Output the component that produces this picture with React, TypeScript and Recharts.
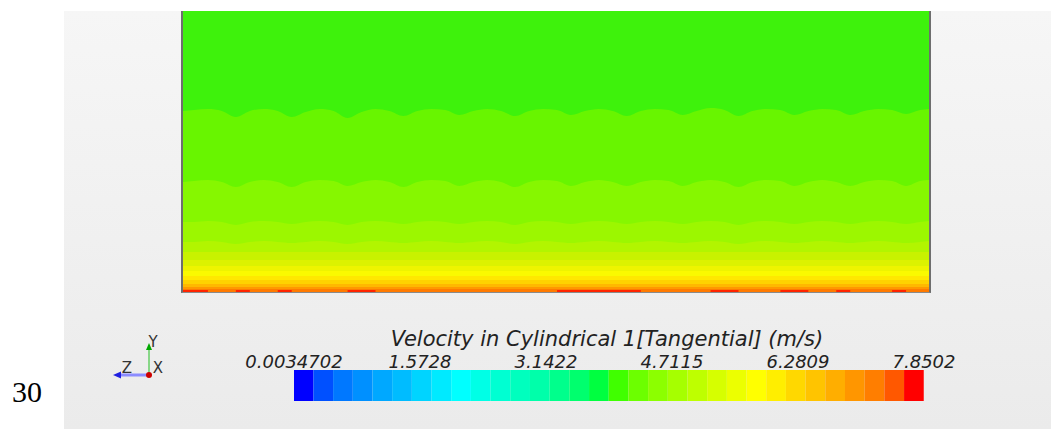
import { ComposedChart, Area, XAxis, YAxis, BarChart, Bar } from 'recharts'

// sample positions across the wall (px along the section)
const xPos = [
  0, 11, 25, 39, 53, 67, 81, 95, 109, 123, 137, 151, 165, 179, 193, 207, 221, 235, 249, 263,
  277, 291, 305, 319, 333, 347, 361, 375, 389, 403, 417, 431, 445, 459, 473, 487, 501, 515, 529,
  543, 557, 571, 585, 599, 613, 627, 641, 655, 669, 683, 697, 711, 725, 739, 748,
]

const fieldHeight = 281

// wavy contour boundaries (height above the wall)
const edge1 = [
  181, 182, 183, 181, 175, 181, 183, 181, 175, 180, 183, 181, 174, 180, 183, 181, 176, 181, 183,
  182, 177, 181, 183, 181, 176, 181, 183, 182, 177, 181, 183, 181, 176, 181, 183, 182, 177, 181,
  184, 182, 176, 181, 183, 182, 177, 181, 183, 182, 177, 181, 183, 182, 178, 182, 183,
]
const edge2 = [
  110, 111, 112, 110, 105, 110, 112, 110, 105, 110, 112, 111, 106, 110, 112, 110, 105, 110, 112,
  111, 106, 110, 112, 110, 105, 110, 112, 111, 106, 110, 112, 110, 106, 110, 112, 111, 106, 110,
  112, 110, 105, 110, 112, 111, 106, 110, 112, 110, 106, 110, 112, 111, 106, 111, 112,
]
const edge3 = [
  70, 70, 71, 70, 67, 70, 71, 70, 68, 70, 71, 70, 67, 70, 71, 70, 68, 70, 71, 70, 68, 70, 71, 70,
  67, 70, 71, 70, 68, 70, 71, 70, 68, 70, 71, 70, 68, 70, 71, 70, 67, 70, 71, 70, 68, 70, 71, 70,
  68, 70, 71, 70, 68, 70, 71,
]
const edge4 = [
  50, 50, 51, 50, 48, 50, 51, 50, 49, 50, 51, 50, 48, 50, 51, 50, 49, 50, 51, 50, 49, 50, 51, 50,
  48, 50, 51, 50, 49, 50, 51, 50, 49, 50, 51, 50, 49, 50, 51, 50, 48, 50, 51, 50, 49, 50, 51, 50,
  49, 50, 51, 50, 49, 50, 51,
]
// near-wall layers are flat
const flatLevels = [40, 32, 26, 21, 16, 12, 8, 5, 3]
const redStrip = [
  2, 2, 0, 0, 2, 0, 0, 2, 0, 0, 0, 0, 2, 2,
  0, 0, 0, 0, 0, 0, 0, 0, 0, 0, 0, 0, 0,
  2, 2, 2, 2, 2, 2,
  0, 0, 0, 0, 0,
  2, 2,
  0, 0, 0,
  2, 2,
  0, 0,
  2,
  0, 0, 0,
  2,
  0, 0, 0,
]

const bandColors = [
  '#3ef20c', '#68f500', '#86f700', '#9cf700', '#b2f500', '#c8f200', '#dcf200',
  '#eef400', '#fafa00', '#ffe800', '#ffd200', '#ffb800', '#ff9800', '#ff7a00',
]
const redColor = '#ff2400'

// legend scale (m/s)
const scaleMin = 0.0034702
const scaleMax = 7.8502
const levelStep = 0.24522
const scaleTicks = [0.0034702, 1.5728, 3.1422, 4.7115, 6.2809, 7.8502]
const scaleLabels = ['0.0034702', '1.5728', '3.1422', '4.7115', '6.2809', '7.8502']
const scaleColors = [
  '#0000ff', '#0050ff', '#0078ff', '#0090ff', '#00a8ff', '#00bcff', '#00d4ff', '#00eaff',
  '#00ffff', '#00ffe6', '#00ffd2', '#00ffbe', '#00ffaa', '#00ff8c', '#00ff6e', '#00ff40',
  '#40ff00', '#6cff00', '#8cff00', '#a6ff00', '#beff00', '#d6ff00', '#ecff00', '#ffff00',
  '#ffee00', '#ffd800', '#ffc400', '#ffae00', '#ff9600', '#ff7e00', '#ff5800', '#ff0000',
]
const scaleTitle = 'Velocity in Cylindrical 1[Tangential] (m/s)'

const font = '"DejaVu Sans", Verdana, sans-serif'

const bandKeys = ['field', 'e1', 'e2', 'e3', 'e4', 'f0', 'f1', 'f2', 'f3', 'f4', 'f5', 'f6', 'f7', 'f8']

const contourData = xPos.map((x, i) => {
  const row: Record<string, number> = {
    x,
    field: fieldHeight,
    e1: edge1[i],
    e2: edge2[i],
    e3: edge3[i],
    e4: edge4[i],
    red: redStrip[i],
  }
  flatLevels.forEach((v, j) => (row[`f${j}`] = v))
  return row
})

// one row, one stacked segment per colour level
const scaleRow: Record<string, string | number> = { name: 'levels' }
scaleColors.forEach((_, i) => (scaleRow[`c${i}`] = levelStep))
const scaleData = [scaleRow]

function Triad() {
  return (
    <svg width={80} height={60} style={{ position: 'absolute', left: 100, top: 330 }}>
      <line x1={49} y1={45} x2={49} y2={17} stroke="#22c022" strokeWidth={1} />
      <polygon points="46,20 52,20 49,13" fill="#00a800" />
      <line x1={49} y1={45} x2={20} y2={45} stroke="#8c8cff" strokeWidth={3} />
      <polygon points="13,45 21,41.5 21,48.5" fill="#2020e0" />
      <circle cx={49} cy={45} r={3} fill="#cc0000" />
      <g fontFamily={font} fontSize={15} fill="#333">
        <text x={53} y={17} textAnchor="middle">Y</text>
        <text x={27} y={43} textAnchor="middle">Z</text>
        <text x={58} y={43} textAnchor="middle">X</text>
      </g>
    </svg>
  )
}

export default function App() {
  return (
    <div style={{ position: 'absolute', left: 0, top: 0, width: 1051, height: 429, background: '#fff', overflow: 'hidden' }}>
      <div
        style={{
          position: 'absolute',
          left: 64,
          top: 11,
          width: 987,
          height: 418,
          background: 'linear-gradient(#f6f6f6, #ebebeb)',
        }}
      />

      {/* contour field */}
      <div
        style={{
          position: 'absolute',
          left: 181,
          top: 11,
          borderLeft: '2px solid #6e6e6e',
          borderRight: '2px solid #6e6e6e',
          borderBottom: '1px solid #8a8a8a',
        }}
      >
        <ComposedChart width={746} height={281} data={contourData} margin={{ top: 0, right: 0, bottom: 0, left: 0 }}>
          <XAxis dataKey="x" type="number" domain={[0, 748]} hide />
          <YAxis type="number" domain={[0, fieldHeight]} hide allowDataOverflow />
          {bandKeys.map((k, i) => (
            <Area
              key={k}
              dataKey={k}
              type="monotone"
              fill={bandColors[i]}
              fillOpacity={1}
              stroke="none"
              dot={false}
              activeDot={false}
              isAnimationActive={false}
            />
          ))}
          <Area
            dataKey="red"
            type="stepAfter"
            fill={redColor}
            fillOpacity={1}
            stroke="none"
            dot={false}
            activeDot={false}
            isAnimationActive={false}
          />
        </ComposedChart>
      </div>

      <Triad />

      {/* colour legend */}
      <div
        style={{
          position: 'absolute',
          left: 357,
          top: 327,
          width: 500,
          textAlign: 'center',
          fontFamily: font,
          fontStyle: 'italic',
          fontSize: 21,
          lineHeight: '24px',
          color: '#222',
          whiteSpace: 'nowrap',
        }}
      >
        {scaleTitle}
      </div>
      <div style={{ position: 'absolute', left: 214, top: 320 }}>
        <BarChart
          layout="vertical"
          width={790}
          height={85}
          data={scaleData}
          barCategoryGap={0}
          margin={{ top: 26, right: 80, bottom: 4, left: 80 }}
        >
          <XAxis
            type="number"
            orientation="top"
            domain={[scaleMin, scaleMax]}
            allowDataOverflow
            ticks={scaleTicks}
            height={24}
            axisLine={false}
            tickLine={false}
            interval={0}
            tick={(props: any) => (
              <text
                x={props.x}
                y={48}
                textAnchor="middle"
                fontFamily={font}
                fontStyle="italic"
                fontSize={18}
                fill="#222"
              >
                {scaleLabels[props.index]}
              </text>
            )}
          />
          <YAxis type="category" dataKey="name" hide />
          {scaleColors.map((color, i) => (
            <Bar key={i} dataKey={`c${i}`} stackId="levels" fill={color} isAnimationActive={false} />
          ))}
        </BarChart>
      </div>

      <div
        style={{
          position: 'absolute',
          left: 12,
          top: 375,
          fontFamily: '"Liberation Serif", "Times New Roman", serif',
          fontSize: 30,
          lineHeight: '34px',
          color: '#000',
        }}
      >
        30
      </div>
    </div>
  )
}
